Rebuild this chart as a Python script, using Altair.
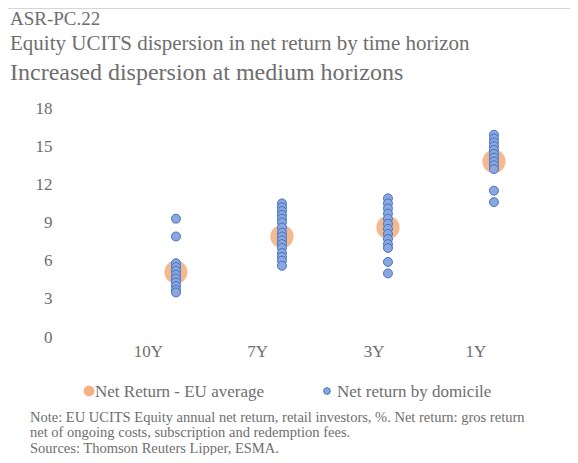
import altair as alt
import pandas as pd

horizons = ["10Y", "7Y", "3Y", "1Y"]
horizon_pos = [1, 2, 3, 4]
label_pos = [0.74, 1.77, 2.87, 3.83]
eu_average = [5.1, 7.9, 8.6, 13.8]
domicile_10y = [9.3, 7.9, 5.8, 5.5, 5.2, 4.9, 4.6, 4.3, 4.0, 3.7, 3.5]
domicile_7y = [10.5, 10.2, 9.9, 9.6, 9.3, 9.0, 8.6, 8.2, 7.9, 7.6, 7.3, 7.0, 6.6, 6.3, 6.0, 5.6]
domicile_3y = [10.9, 10.5, 10.1, 9.7, 9.3, 8.9, 8.5, 8.1, 7.7, 7.3, 7.0, 5.9, 5.0]
domicile_1y = [15.9, 15.6, 15.3, 15.0, 14.7, 14.4, 14.1, 13.8, 13.5, 13.2, 11.5, 10.6]
y_ticks = [0, 3, 6, 9, 12, 15, 18]

FONT = "Liberation Serif, Times New Roman, Tinos, DejaVu Serif, serif"
GRAY = "#6E6E6E"
ORANGE = "#F4B183"
BLUE_FILL = "#8AA8DE"
BLUE_STROKE = "#4470C4"

avg_df = pd.DataFrame({"h": horizons, "x": horizon_pos, "v": eu_average})
dom_rows = []
for h, x, vals in zip(horizons, horizon_pos, [domicile_10y, domicile_7y, domicile_3y, domicile_1y]):
    for v in vals:
        dom_rows.append({"h": h, "x": x, "v": v})
dom_df = pd.DataFrame(dom_rows)
lab_df = pd.DataFrame({"h": horizons, "x": label_pos})

xscale = alt.Scale(domain=[-0.094, 4.623], nice=False, zero=False)
yscale = alt.Scale(domain=[0, 18], nice=False)

yaxis = alt.Axis(values=y_ticks, domain=False, ticks=False, grid=False,
                 labelFont=FONT, labelFontSize=17, labelColor=GRAY,
                 labelPadding=8, title=None)

avg = alt.Chart(avg_df).mark_circle(size=540, color=ORANGE, opacity=0.9).encode(
    x=alt.X("x:Q", scale=xscale, axis=None),
    y=alt.Y("v:Q", scale=yscale, axis=yaxis),
)
dom = alt.Chart(dom_df).mark_circle(size=80, fill=BLUE_FILL, stroke=BLUE_STROKE,
                                    strokeWidth=1, opacity=1).encode(
    x=alt.X("x:Q", scale=xscale, axis=None),
    y=alt.Y("v:Q", scale=yscale, axis=yaxis),
)
labels = alt.Chart(lab_df).mark_text(font=FONT, fontSize=17, color=GRAY,
                                     baseline="middle", align="center").encode(
    x=alt.X("x:Q", scale=xscale, axis=None),
    y=alt.value(244),
    text="h:N",
)


def txt(s, x, y, size, **kw):
    return alt.Chart(pd.DataFrame({"t": [s]})).mark_text(
        font=FONT, fontSize=size, color=GRAY, align="left", baseline="alphabetic", **kw
    ).encode(x=alt.value(x), y=alt.value(y), text="t:N")


top_rule = alt.Chart(pd.DataFrame({"a": [0]})).mark_rule(color="#C8C8C8", strokeWidth=1.5).encode(
    x=alt.value(-52), x2=alt.value(510), y=alt.value(-100)
)

t1 = txt("ASR-PC.22", -50, -83, 19)
t2 = txt("Equity UCITS dispersion in net return by time horizon", -50, -58, 21)
t3 = txt("Increased dispersion at medium horizons", -50, -28, 24)

leg_o = alt.Chart(pd.DataFrame({"a": [0]})).mark_circle(size=120, color=ORANGE, opacity=1).encode(
    x=alt.value(29), y=alt.value(283)
)
leg_b = alt.Chart(pd.DataFrame({"a": [0]})).mark_circle(size=45, fill=BLUE_FILL, stroke=BLUE_STROKE,
                                                      strokeWidth=1, opacity=1).encode(
    x=alt.value(267), y=alt.value(283)
)
leg_t1 = txt("Net Return - EU average", 35, 289, 17)
leg_t2 = txt("Net return by domicile", 277, 289, 17)

n1 = txt("Note: EU UCITS Equity annual net return, retail investors, %. Net return: gros return", -30, 314, 14.5)
n2 = txt("net of ongoing costs, subscription and redemption fees.", -30, 328.5, 14.5)
n3 = txt("Sources: Thomson Reuters Lipper, ESMA.", -30, 345, 14.5)

chart = alt.layer(
    avg, dom, labels, top_rule, t1, t2, t3, leg_o, leg_b, leg_t1, leg_t2, n1, n2, n3
).properties(
    width=500, height=229,
    padding={"left": 52, "top": 100, "right": 10, "bottom": 118},
    autosize="none",
).configure_view(stroke=None)

chart.save("out.html", embed_options={"renderer": "svg", "actions": False})
